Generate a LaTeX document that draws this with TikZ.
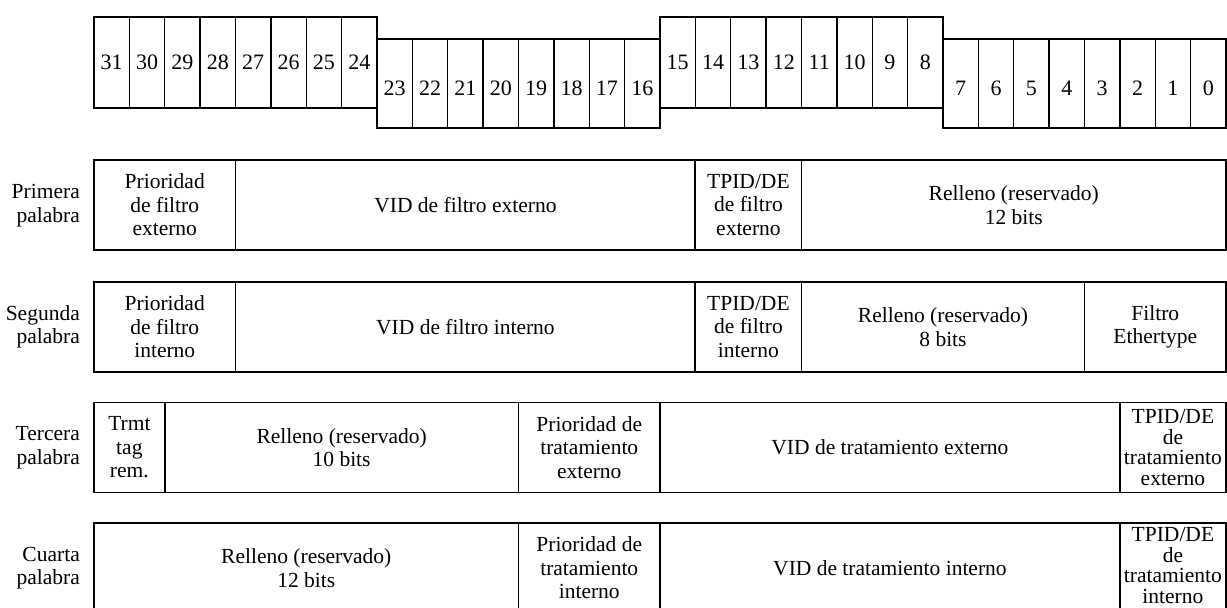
\documentclass[tikz,border=0pt]{standalone}
\usepackage{fontspec}
\setmainfont{Liberation Serif}
\newcommand\fsz{\fontsize{21.5}{23.5}\selectfont}
\newcommand\fsztight{\fontsize{21.5}{20.5}\selectfont}
\newcommand\fszbit{\fontsize{22}{24}\selectfont}
\tikzset{
  bitcell/.style={draw, line width=1.4pt, inner sep=0pt, minimum width=35.375pt, font=\fszbit},
  field/.style={draw, line width=1.8pt, inner sep=0pt, minimum height=90pt, align=center, font=\fsz},
  tightfield/.style={field, font=\fsztight},
  rowlabel/.style={anchor=east, align=right, inner sep=0pt, font=\fsz}
}
\newcommand\fld[6][field]{%
  \node[#1, minimum width={(#5-#4)*35.375pt}] (#2) at ({94+(#4+#5)/2*35.375},{#3+45}) {#6};
}
\begin{document}
\begin{tikzpicture}[x=1pt, y=-1pt]
\useasboundingbox (0,0) rectangle (1227,608);
% bit header
\foreach \i in {0,...,31}{
  \pgfmathtruncatemacro\b{31-\i}
  \pgfmathtruncatemacro\g{mod(int(\i/8),2)}
  \ifnum\g=0
    \node[bitcell, minimum height=91pt] (b\b) at ({94+(\i+0.5)*35.375},62.5) {\b};
  \else
    \node[bitcell, minimum height=89pt, text height=23pt, text depth=0pt] (b\b) at ({94+(\i+0.5)*35.375},83.5) {\b};
  \fi
}
% row labels
\node[rowlabel] (l1) at (80,205.5) {Primera\\palabra};
\node[rowlabel] (l2) at (80,327) {Segunda\\palabra};
\node[rowlabel] (l3) at (80,447.5) {Tercera\\palabra};
\node[rowlabel] (l4) at (80,568) {Cuarta\\palabra};
% first word
\fld{p1}{160}{0}{4}{Prioridad\\de filtro\\externo}
\fld{v1}{160}{4}{17}{VID de filtro externo}
\fld{t1}{160}{17}{20}{TPID/DE\\de filtro\\externo}
\fld{r1}{160}{20}{32}{Relleno (reservado)\\12 bits}
% second word
\fld{p2}{282}{0}{4}{Prioridad\\de filtro\\interno}
\fld{v2}{282}{4}{17}{VID de filtro interno}
\fld{t2}{282}{17}{20}{TPID/DE\\de filtro\\interno}
\fld{r2}{282}{20}{28}{Relleno (reservado)\\8 bits}
\fld{e2}{282}{28}{32}{Filtro\\Ethertype}
% third word
\fld{m3}{402.5}{0}{2}{Trmt\\tag\\rem.}
\fld{r3}{402.5}{2}{12}{Relleno (reservado)\\10 bits}
\fld{p3}{402.5}{12}{16}{Prioridad de\\tratamiento\\externo}
\fld{v3}{402.5}{16}{29}{VID de tratamiento externo}
\fld[tightfield]{t3}{402.5}{29}{32}{TPID/DE\\de\\tratamiento\\externo}
% fourth word
\fld{r4}{523}{0}{12}{Relleno (reservado)\\12 bits}
\fld{p4}{523}{12}{16}{Prioridad de\\tratamiento\\interno}
\fld{v4}{523}{16}{29}{VID de tratamiento interno}
\fld[{tightfield, text depth=5pt}]{t4}{523}{29}{32}{TPID/DE\\de\\tratamiento\\interno}
\end{tikzpicture}
\end{document}
